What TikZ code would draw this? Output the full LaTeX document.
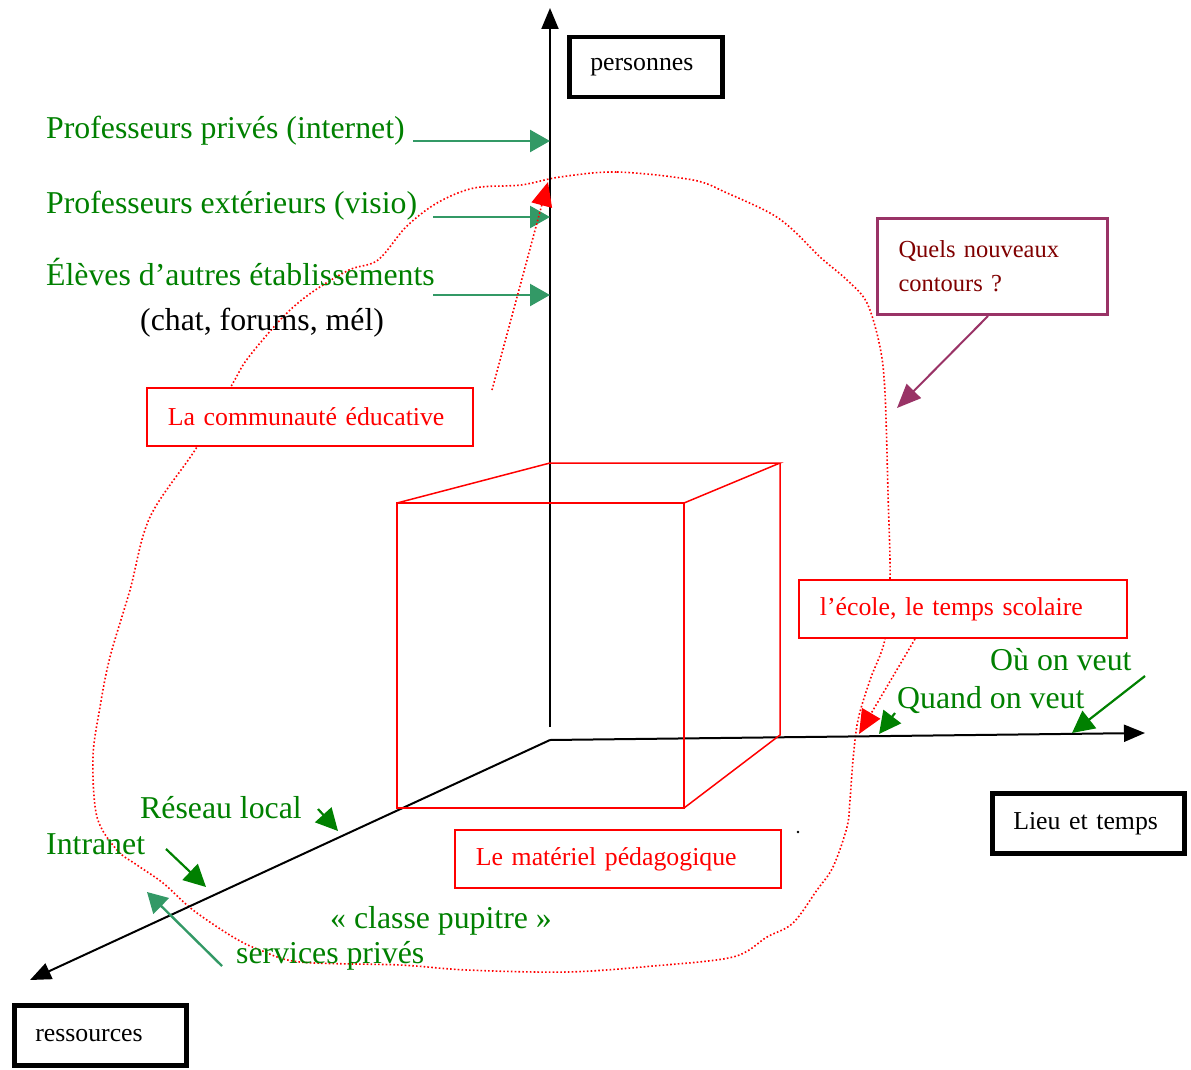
\documentclass[tikz,border=0pt]{standalone}
\usepackage{fontspec}
\setmainfont{Liberation Serif}
\usetikzlibrary{arrows.meta, positioning}

\definecolor{txtgreen}{RGB}{0,128,0}
\definecolor{seagreen}{RGB}{51,153,102}
\definecolor{plum}{RGB}{153,51,102}
\definecolor{darkred}{RGB}{128,0,0}

\tikzset{
  axis/.style = {line width=2pt, -{Triangle[length=21pt, width=17pt]}},
  cube/.style = {red, line width=1.5pt},
  contour/.style = {red, line width=1.6pt, dash pattern=on 1.6pt off 2.2pt},
  tag/.style = {draw, fill=white, align=left, inner xsep=21pt, inner ysep=0pt, anchor=north west},
  axistag/.style = {tag, line width=4.5pt, minimum height=60pt, font=\fontsize{25.8}{30}\selectfont},
  redtag/.style = {tag, draw=red, text=red, line width=1.8pt, minimum height=58pt, font=\fontsize{25.8}{30}\selectfont},
  greentext/.style = {txtgreen, anchor=base west, inner sep=0pt, font=\fontsize{31.8}{36}\selectfont},
  pointer/.style = {seagreen, line width=2.4pt, -{Triangle[length=20pt, width=22pt]}},
  hint/.style = {txtgreen, line width=2.2pt, -{Triangle[length=22pt, width=22pt]}},
  redptr/.style = {contour, -{Triangle[length=24pt, width=21pt]}}
}

\begin{document}
\begin{tikzpicture}[x=1pt, y=-1pt]
  \useasboundingbox (0,0) rectangle (1191,1070);

  %% Contour of the educational community
  \draw[contour] plot[smooth cycle, tension=0.55] coordinates {
    (560,177) (617,172) (693,180) (727,193) (770,213) (793,230) (820,257)
    (847,280) (867,303) (880,347) (885,393) (888,493) (890,578) (885,639)
    (870,680) (858,720) (853,760) (850,800) (847,827) (833,867) (817,890)
    (793,923) (767,937) (733,957) (653,966) (567,972) (467,970) (400,965)
    (300,962) (260,950) (233,937) (193,910) (163,883) (137,865) (117,850)
    (97,817) (93,757) (100,707) (110,657) (130,590) (150,517) (197,447)
    (233,383) (248,358) (283,317) (311,293) (349,270) (378,260) (406,227)
    (437,203) (474,188) (521,185)};

  %% Axes
  \coordinate (origin) at (550,740);
  \coordinate (ybase) at (550,727);
  \coordinate (ytip) at (550,8);
  \coordinate (xtip) at (1145,733);
  \coordinate (ztip) at (30,980);
  \draw[axis] (ybase) -- (ytip);
  \draw[axis] (origin) -- (xtip);
  \draw[axis] (origin) -- (ztip);

  % Axis names
  \node[axistag, text width=111pt] (persons) at (567,35) {personnes};
  \node[axistag, text width=150pt] (place) at (990,791) {Lieu et temps};
  \node[axistag, text width=130pt] (resources) at (12,1003) {ressources};

  %% Cube
  \coordinate (fa) at (397,503);
  \coordinate (fb) at (684,503);
  \coordinate (fc) at (684,808);
  \coordinate (fd) at (397,808);
  \coordinate (ba) at (550,463);
  \coordinate (bb) at (780,463);
  \coordinate (bc) at (780,735);
  \draw[cube] (fa) -- (fb) -- (fc) -- (fd) -- cycle;
  \draw[cube] (fa) -- (ba) -- (bb) -- (fb);
  \draw[cube] (bb) -- (bc) -- (fc);

  %% People
  \node[greentext] (private) at (46,139) {Professeurs privés (internet)};
  \node[greentext] (visio) at (46,213) {Professeurs extérieurs (visio)};
  \node[greentext] (pupils) at (46,285) {Élèves d’autres établissements};
  \node[greentext, black] (chat) at (140,330) {(chat, forums, mél)};
  \coordinate (p1) at (413,141);
  \coordinate (p2) at (433,217);
  \coordinate (p3) at (433,295);
  \draw[pointer] (p1) -- (p1 -| ytip);
  \draw[pointer] (p2) -- (p2 -| ytip);
  \draw[pointer] (p3) -- (p3 -| ytip);

  %% Resources
  \node[greentext] (lan) at (140,818) {Réseau local};
  \node[greentext] (intranet) at (46,854) {Intranet};
  \node[greentext] (desk) at (330,928) {« classe pupitre »};
  \node[greentext] (services) at (236,963) {services privés};
  \coordinate (r1) at (318,809);
  \coordinate (r1e) at (338,831);
  \coordinate (r2) at (166,849);
  \coordinate (r2e) at (206,887);
  \coordinate (r3) at (222,966);
  \coordinate (r3e) at (147,892);
  \draw[hint] (r1) -- (r1e);
  \draw[hint] (r2) -- (r2e);
  \draw[pointer] (r3) -- (r3e);

  %% Place and time
  \node[greentext] (where) at (990,670) {Où on veut};
  \node[greentext] (when) at (897,708) {Quand on veut};
  \coordinate (t1) at (895,713);
  \coordinate (t1e) at (879,734);
  \coordinate (t2) at (1145,676);
  \coordinate (t2e) at (1072,733);
  \draw[hint] (t1) -- (t1e);
  \draw[hint] (t2) -- (t2e);

  %% Red labels
  \node[redtag, text width=284pt] (community) at (146,387) {La communauté éducative};
  \node[redtag, text width=286pt] (school) at (798,579) {l’école, le temps scolaire};
  \node[redtag, text width=284pt] (material) at (454,829) {Le matériel pédagogique};
  \coordinate (c1) at (492,390);
  \coordinate (c1e) at (548,182);
  \coordinate (s1) at (915,639);
  \coordinate (s1e) at (859,734);
  \draw[redptr] (c1) -- (c1e);
  \draw[redptr] (s1) -- (s1e);

  %% Question
  \node[tag, draw=plum, line width=3pt, text=darkred, text width=188pt, minimum height=96pt,
        font=\fontsize{24.5}{34}\selectfont] (question) at (876,217) {Quels nouveaux\\contours ?};
  \coordinate (q1) at (988,316);
  \coordinate (q1e) at (897,408);
  \draw[plum, line width=2pt, -{Triangle[length=24pt, width=20pt]}] (q1) -- (q1e);

  \fill (798,832) circle (1.3);

\end{tikzpicture}
\end{document}
